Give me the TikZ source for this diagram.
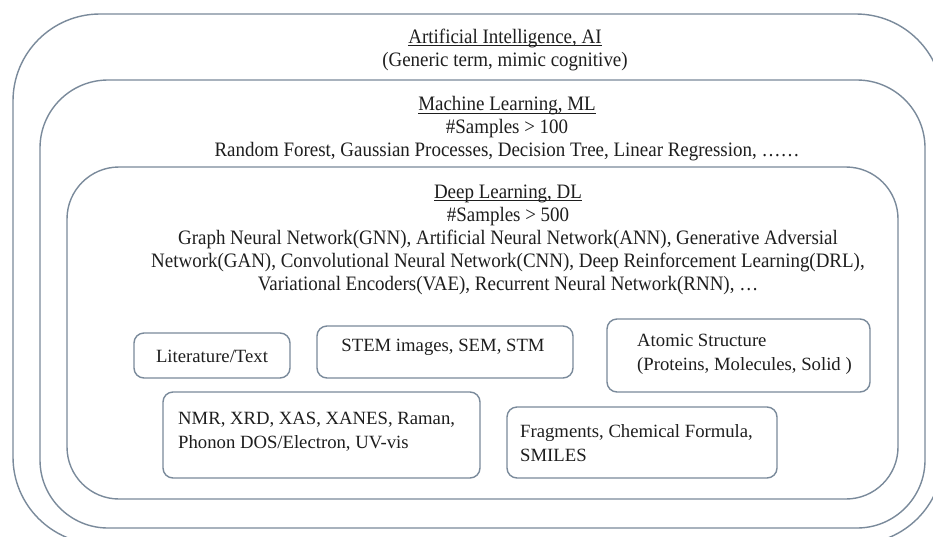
\documentclass[tikz,border=0pt]{standalone}
\usepackage{fontspec}
\setmainfont{Liberation Serif}
\newfontfamily\condfont[FakeStretch=0.925]{Liberation Serif}
\newcommand\myul[1]{\setbox0\hbox{#1}\rlap{\rule[-2.6pt]{\wd0}{0.9pt}}\box0}
\definecolor{boxc}{RGB}{122,138,155}
\definecolor{txtc}{RGB}{30,30,30}
\begin{document}
\begin{tikzpicture}[x=1pt,y=-1pt,
  frame/.style={draw=boxc, line width=1.4pt, inner sep=0pt},
  bigbox/.style={frame},
  smallbox/.style={frame, rounded corners=10pt},
  txt/.style={align=center, font=\condfont\fontsize{20.5}{23}\selectfont, text=txtc, inner sep=0pt},
  stxt/.style={align=center, font=\fontsize{18.7}{23}\selectfont, text=txtc, inner sep=0pt},
  btxt/.style={align=left, font=\fontsize{18.7}{24}\selectfont, text=txtc, inner sep=0pt, anchor=west}]
\useasboundingbox (0,0) rectangle (933,536);
\clip (0,0) rectangle (933,536);
\fill[white] (0,0) rectangle (933,536);
% nested frames
\node[bigbox, rounded corners=87pt, minimum width=930pt, minimum height=530pt] (ai) at (478,279) {};
\node[bigbox, rounded corners=68pt, minimum width=885pt, minimum height=448pt] (ml) at (482.5,304) {};
\node[bigbox, rounded corners=52pt, minimum width=831pt, minimum height=332pt] (dl) at (482.5,333) {};
% frame texts
\node[txt] (aitxt) at (505,49.5) {\myul{Artificial Intelligence, AI}\\(Generic term, mimic cognitive)};
\node[txt] (mltxt) at (507,129) {\myul{Machine Learning, ML}\\\#Samples > 100\\Random Forest, Gaussian Processes, Decision Tree, Linear Regression, ……};
\node[txt] (dltxt) at (508,239.5) {\myul{Deep Learning, DL}\\\#Samples > 500\\Graph Neural Network(GNN), Artificial Neural Network(ANN), Generative Adversial\\Network(GAN), Convolutional Neural Network(CNN), Deep Reinforcement Learning(DRL),\\Variational Encoders(VAE), Recurrent Neural Network(RNN), …};
% data boxes
\node[smallbox, minimum width=156pt, minimum height=45pt] (lit) at (212,355.5) {};
\node[smallbox, minimum width=256pt, minimum height=52pt] (stem) at (445,352) {};
\node[smallbox, minimum width=263pt, minimum height=73pt] (atom) at (738.5,355.5) {};
\node[smallbox, minimum width=317pt, minimum height=86pt] (nmr) at (321.5,435) {};
\node[smallbox, minimum width=270pt, minimum height=71pt] (frag) at (642,442.5) {};
\node[stxt] (littxt) at (212,356) {Literature/Text};
\node[stxt] (stemtxt) at (443,347) {STEM images, SEM, STM};
\node[btxt] (atomtxt) at (637,354.5) {Atomic Structure\\(Proteins, Molecules, Solid )};
\node[btxt] (nmrtxt) at (178,432) {NMR, XRD, XAS, XANES, Raman,\\Phonon DOS/Electron, UV-vis};
\node[btxt] (fragtxt) at (520,443.5) {Fragments, Chemical Formula,\\SMILES};
\end{tikzpicture}
\end{document}
